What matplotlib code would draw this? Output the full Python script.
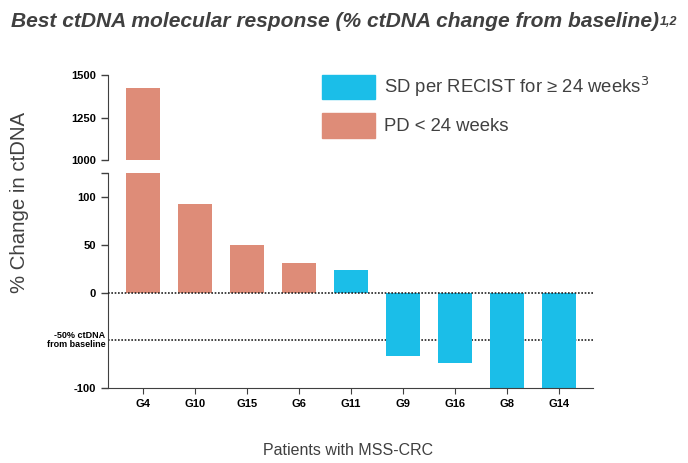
import matplotlib
matplotlib.use("Agg")
import matplotlib.pyplot as plt
from matplotlib.patches import Patch

plt.rcParams['font.family'] = ['Liberation Sans', 'DejaVu Sans']

# data
patients = ["G4", "G10", "G15", "G6", "G11", "G9", "G16", "G8", "G14"]
change = [1425, 93, 50, 31, 24, -67, -74, -100, -100]
group = ["PD", "PD", "PD", "PD", "SD", "SD", "SD", "SD", "SD"]

blue = "#1bbee8"
salmon = "#de8c78"
colors = [blue if g == "SD" else salmon for g in group]
dark = "#404040"

fig = plt.figure(figsize=(6.88, 4.63), dpi=100)
ax_top = fig.add_axes([0.157, 0.654, 0.705, 0.184])
ax = fig.add_axes([0.157, 0.162, 0.705, 0.464])

x = list(range(len(patients)))
for a in (ax_top, ax):
    a.bar(x, change, width=0.65, color=colors, zorder=2)
    a.set_xlim(-0.67, 8.65)
    for s in ("top", "right"):
        a.spines[s].set_visible(False)
    a.spines["left"].set_color(dark)
    a.tick_params(axis="y", length=5, width=1, color=dark, labelsize=8)

# top part of the broken axis
ax_top.set_ylim(1000, 1500)
ax_top.set_yticks([1000, 1250, 1500])
ax_top.set_yticklabels(["1000", "1250", "1500"], fontweight="bold", fontsize=8)
ax_top.spines["bottom"].set_visible(False)
ax_top.set_xticks([])

# lower part
ax.set_ylim(-100, 125)
ax.set_yticks([-100, 0, 50, 100, 125])
ax.set_yticklabels(["-100", "0", "50", "100", ""], fontweight="bold", fontsize=8)
ax.spines["bottom"].set_color(dark)
ax.set_xticks(x)
ax.set_xticklabels(patients, fontweight="bold", fontsize=8)
ax.tick_params(axis="x", length=4, color=dark, pad=4)

ax.axhline(0, color="#222222", linestyle=(0, (1, 1)), linewidth=1.2, zorder=3)
ax.axhline(-50, color="#222222", linestyle=(0, (1, 1)), linewidth=1.2, zorder=1)
ax.text(-0.72, -50, "-50% ctDNA\nfrom baseline", ha="right", va="center",
        fontsize=6.5, fontweight="bold", linespacing=1.05)

fig.text(0.028, 0.562, "% Change in ctDNA", rotation=90, ha="center", va="center",
         fontsize=14.7, color=dark)
fig.text(0.506, 0.028, "Patients with MSS-CRC", ha="center", va="center",
         fontsize=11.5, color=dark)

title = fig.text(0.016, 0.953, "Best ctDNA molecular response (% ctDNA change from baseline)",
                 ha="left", va="center", fontsize=15.1, fontweight="bold",
                 fontstyle="italic", color=dark)
fig.canvas.draw()
bb = title.get_window_extent().transformed(fig.transFigure.inverted())
fig.text(bb.x1 + 0.001, bb.y1 - 0.008, "1,2", ha="left", va="top", fontsize=9,
         fontweight="bold", fontstyle="italic", color=dark)

handles = [Patch(color=blue), Patch(color=salmon)]
labels = ["SD per RECIST for \u2265 24 weeks$^3$", "PD < 24 weeks"]
fig.legend(handles, labels, loc="upper left", bbox_to_anchor=(0.468, 0.838),
           frameon=False, fontsize=13.3, handlelength=2.87, handleheight=1.65,
           labelspacing=0.75, handletextpad=0.5, borderpad=0, borderaxespad=0,
           labelcolor=dark)

fig.savefig("out.png", dpi=100)
